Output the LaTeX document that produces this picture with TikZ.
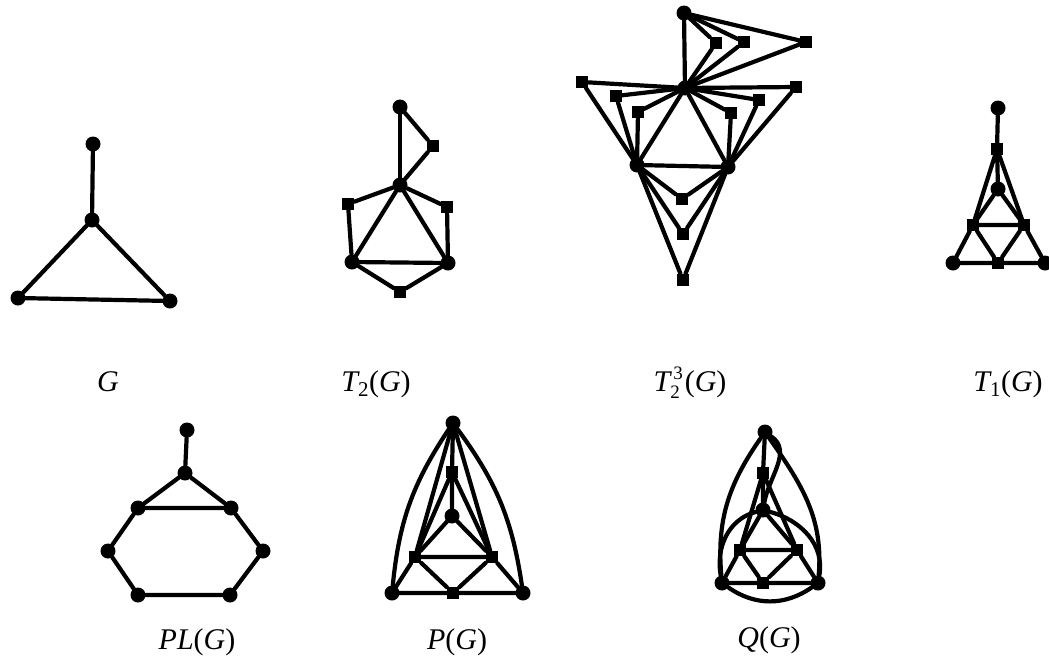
\documentclass[tikz,border=0pt]{standalone}
\usepackage{fontspec}
\setmainfont{Liberation Serif}
\usepackage{tikz}
\usetikzlibrary{positioning}
\tikzset{
  vdot/.style={circle, fill=black, inner sep=0pt, minimum size=15pt},
  vsq/.style={rectangle, fill=black, inner sep=0pt, minimum size=12pt},
  ed/.style={line width=4.2pt, line cap=round},
  lbl/.style={anchor=base, font=\fontsize{30}{34}\selectfont, inner sep=0pt},
}
\begin{document}
\begin{tikzpicture}[x=1pt,y=-1pt]
\useasboundingbox (0,0) rectangle (1049,662);

% G
\node[vdot] (g1) at (93,144) {};
\node[vdot] (g2) at (92,220) {};
\node[vdot] (g3) at (18,298) {};
\node[vdot] (g4) at (170,301) {};
\draw[ed] (g1) -- (g2) -- (g3) -- (g4) -- (g2);
\node[lbl] (lg) at (108,391) {\itshape G};

% T2(G)
\node[vdot] (ta) at (400,107) {};
\node[vsq]  (tab) at (433,146) {};
\node[vdot] (tb) at (400,185) {};
\node[vsq]  (tbc) at (348,204) {};
\node[vsq]  (tbd) at (447,207) {};
\node[vdot] (tc) at (352,262) {};
\node[vdot] (td) at (448,263) {};
\node[vsq]  (tcd) at (400,292) {};
\draw[ed] (ta) -- (tb);
\draw[ed] (ta) -- (tab) -- (tb);
\draw[ed] (tb) -- (tbc) -- (tc);
\draw[ed] (tb) -- (tbd) -- (td);
\draw[ed] (tb) -- (tc) -- (td) -- (tb);
\draw[ed] (tc) -- (tcd) -- (td);
\node[lbl] (lt2) at (376,391) {{\itshape T}\textsubscript{2}({\itshape G})};

% T2^3(G)
\node[vdot] (ua) at (684,13) {};
\node[vsq]  (uab1) at (716,43) {};
\node[vsq]  (uab2) at (744,42) {};
\node[vsq]  (uab3) at (806,42) {};
\node[vdot] (ub) at (685,88) {};
\node[vsq]  (ubc1) at (582,82) {};
\node[vsq]  (ubc2) at (616,96) {};
\node[vsq]  (ubc3) at (638,112) {};
\node[vsq]  (ubd1) at (796,87) {};
\node[vsq]  (ubd2) at (759,100) {};
\node[vsq]  (ubd3) at (731,113) {};
\node[vdot] (uc) at (637,165) {};
\node[vdot] (ud) at (728,167) {};
\node[vsq]  (ucd1) at (682,199) {};
\node[vsq]  (ucd2) at (683,234) {};
\node[vsq]  (ucd3) at (683,280) {};
\draw[ed] (ua) -- (ub);
\foreach \s in {uab1,uab2,uab3}
  \draw[ed] (ua) -- (\s) -- (ub);
\foreach \s in {ubc1,ubc2,ubc3}
  \draw[ed] (ub) -- (\s) -- (uc);
\foreach \s in {ubd1,ubd2,ubd3}
  \draw[ed] (ub) -- (\s) -- (ud);
\foreach \s in {ucd1,ucd2,ucd3}
  \draw[ed] (uc) -- (\s) -- (ud);
\draw[ed] (ub) -- (uc) -- (ud) -- (ub);
\node[lbl] (lt23) at (690,391)
  {{\itshape T}\rlap{\raisebox{12pt}{\fontsize{19}{19}\selectfont\,3}}\raisebox{-7pt}{\fontsize{19}{19}\selectfont 2}\,({\itshape G})};

% T1(G)
\node[vdot] (va) at (998,108) {};
\node[vsq]  (vab) at (997,149) {};
\node[vdot] (vb) at (998,189) {};
\node[vsq]  (vbc) at (973,225) {};
\node[vsq]  (vbd) at (1024,225) {};
\node[vdot] (vc) at (953,263) {};
\node[vsq]  (vcd) at (998,263) {};
\node[vdot] (vd) at (1045,263) {};
\draw[ed] (va) -- (vab) -- (vb);
\draw[ed] (vab) -- (vbc);
\draw[ed] (vab) -- (vbd);
\draw[ed] (vb) -- (vbc) -- (vc) -- (vcd) -- (vd) -- (vbd) -- (vb);
\draw[ed] (vbc) -- (vbd) -- (vcd) -- (vbc);
\node[lbl] (lt1) at (1008,391) {{\itshape T}\textsubscript{1}({\itshape G})};

% PL(G)
\node[vdot] (pa) at (187,430) {};
\node[vdot] (pb) at (185,473) {};
\node[vdot] (pu1) at (138,508) {};
\node[vdot] (pu2) at (231,508) {};
\node[vdot] (pm1) at (108,551) {};
\node[vdot] (pm2) at (263,551) {};
\node[vdot] (pl1) at (138,595) {};
\node[vdot] (pl2) at (230,595) {};
\draw[ed] (pa) -- (pb) -- (pu1) -- (pu2) -- (pb);
\draw[ed] (pu1) -- (pm1) -- (pl1) -- (pl2) -- (pm2) -- (pu2);
\node[lbl] (lpl) at (197,649) {{\itshape PL}({\itshape G})};

% P(G)
\node[vdot] (wa) at (453,423) {};
\node[vsq]  (wab) at (452,472) {};
\node[vdot] (wb) at (452,516) {};
\node[vsq]  (wbc) at (415,557) {};
\node[vsq]  (wbd) at (492,557) {};
\node[vdot] (wc) at (392,593) {};
\node[vsq]  (wcd) at (453,593) {};
\node[vdot] (wd) at (523,593) {};
\draw[ed] (wa) -- (wab) -- (wb);
\draw[ed] (wab) -- (wbc);
\draw[ed] (wab) -- (wbd);
\draw[ed] (wa) -- (wbc);
\draw[ed] (wa) -- (wbd);
\draw[ed] (wb) -- (wbc) -- (wc) -- (wcd) -- (wd) -- (wbd) -- (wb);
\draw[ed] (wbc) -- (wbd) -- (wcd) -- (wbc);
\draw[ed] (wa) to[bend right=14] (wc);
\draw[ed] (wa) to[bend left=14] (wd);
\node[lbl] (lp) at (457,649) {{\itshape P}({\itshape G})};

% Q(G)
\node[vdot] (qa) at (765,432) {};
\node[vsq]  (qab) at (763,473) {};
\node[vdot] (qb) at (763,510) {};
\node[vsq]  (qbc) at (740,550) {};
\node[vsq]  (qbd) at (797,550) {};
\node[vdot] (qc) at (722,583) {};
\node[vsq]  (qcd) at (763,583) {};
\node[vdot] (qd) at (818,583) {};
\draw[ed] (qa) -- (qab) -- (qb);
\draw[ed] (qab) -- (qbc);
\draw[ed] (qab) -- (qbd);
\draw[ed] (qb) -- (qbc) -- (qc) -- (qcd) -- (qd) -- (qbd) -- (qb);
\draw[ed] (qbc) -- (qbd) -- (qcd) -- (qbc);
\draw[ed] (qa) to[out=235,in=95] (qc);
\draw[ed] (qa) to[out=-55,in=85] (qd);
\draw[ed] (qc) to[out=-35,in=-145] (qd);
\draw[ed] (qa) to[out=-35,in=80] (qb);
\draw[ed] (qc) to[out=100,in=195] (qb);
\draw[ed] (qd) to[out=80,in=-15] (qb);
\node[lbl] (lq) at (769,647) {{\itshape Q}({\itshape G})};
\end{tikzpicture}
\end{document}
